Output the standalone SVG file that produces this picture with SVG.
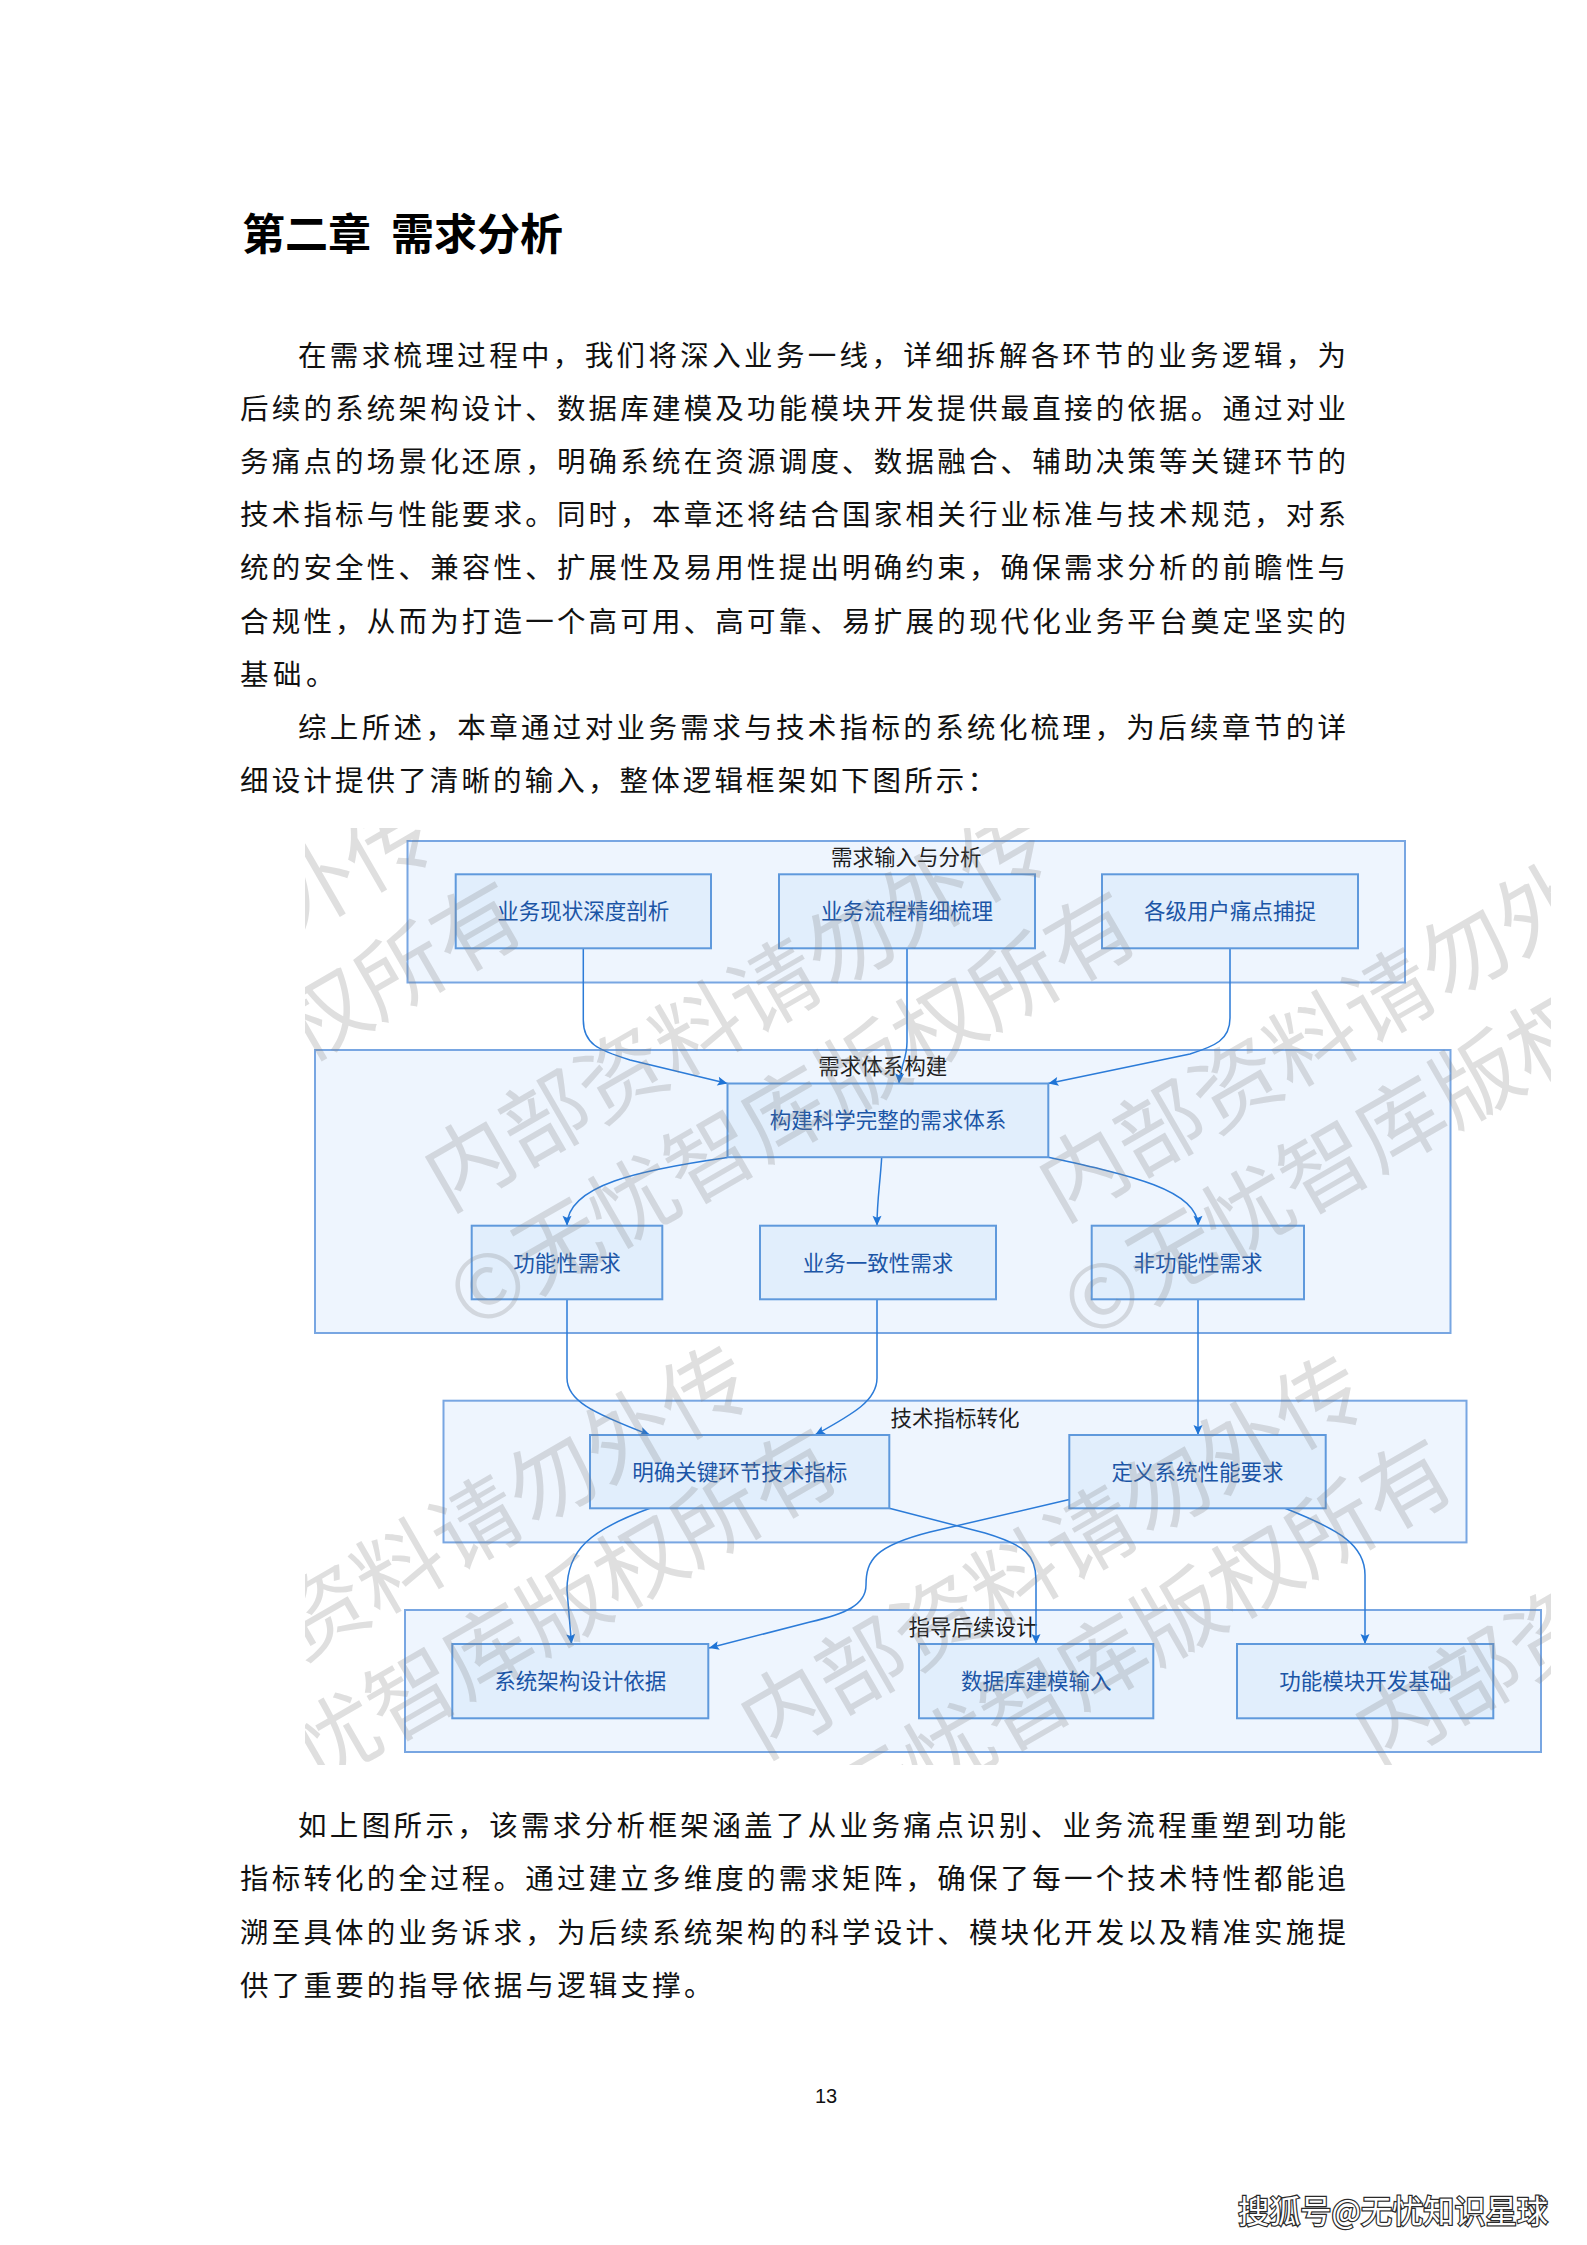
<svg xmlns="http://www.w3.org/2000/svg" width="1587" height="2245" viewBox="0 0 1587 2245">
<defs>
<style>
.body{font-family:"Noto Sans CJK SC","Noto Sans CJK JP",sans-serif;font-size:28.5px;fill:#111;}
.title{font-family:"Noto Sans CJK SC","Noto Sans CJK JP",sans-serif;font-size:43px;font-weight:700;fill:#000;}
.grp{fill:#eef5fe;stroke:#78a6e2;stroke-width:2;}
.node{fill:#e1eefc;stroke:#5f99dc;stroke-width:2;}
.nt{font-family:"Noto Sans CJK SC","Noto Sans CJK JP",sans-serif;font-size:21.5px;fill:#1b55a6;text-anchor:middle;}
.gt{font-family:"Noto Sans CJK SC","Noto Sans CJK JP",sans-serif;font-size:21.5px;fill:#1e1e1e;text-anchor:middle;}
.edge{fill:none;stroke:#2b7bd8;stroke-width:1.5;marker-end:url(#arr);}
.wm{font-family:"Noto Sans CJK SC","Noto Sans CJK JP",sans-serif;font-size:88px;fill:#808080;fill-opacity:0.25;}
</style>
<marker id="arr" viewBox="0 0 10 10" refX="10" refY="5" markerWidth="11" markerHeight="10" markerUnits="userSpaceOnUse" orient="auto"><path d="M0,0.5 L10,5 L0,9.5 L2,5 z" fill="#1f74d6"/></marker>
<clipPath id="wmclip"><rect x="305" y="828" width="1246" height="937"/></clipPath>
</defs>
<rect x="0" y="0" width="1587" height="2245" fill="#ffffff"/>

<g id="heading">
<text class="title" x="242" y="250">第二章<tspan x="391">需求分析</tspan></text>
</g>

<g id="intro">
<text class="body" x="298" y="366" textLength="1048" lengthAdjust="spacing">在需求梳理过程中，我们将深入业务一线，详细拆解各环节的业务逻辑，为</text>
<text class="body" x="240" y="419.1" textLength="1106" lengthAdjust="spacing">后续的系统架构设计、数据库建模及功能模块开发提供最直接的依据。通过对业</text>
<text class="body" x="240" y="472.2" textLength="1106" lengthAdjust="spacing">务痛点的场景化还原，明确系统在资源调度、数据融合、辅助决策等关键环节的</text>
<text class="body" x="240" y="525.3" textLength="1106" lengthAdjust="spacing">技术指标与性能要求。同时，本章还将结合国家相关行业标准与技术规范，对系</text>
<text class="body" x="240" y="578.4" textLength="1106" lengthAdjust="spacing">统的安全性、兼容性、扩展性及易用性提出明确约束，确保需求分析的前瞻性与</text>
<text class="body" x="240" y="631.5" textLength="1106" lengthAdjust="spacing">合规性，从而为打造一个高可用、高可靠、易扩展的现代化业务平台奠定坚实的</text>
<text class="body" x="240" y="684.6" textLength="94.5" lengthAdjust="spacing">基础。</text>
<text class="body" x="298" y="737.7" textLength="1048" lengthAdjust="spacing">综上所述，本章通过对业务需求与技术指标的系统化梳理，为后续章节的详</text>
<text class="body" x="240" y="790.8" textLength="756" lengthAdjust="spacing">细设计提供了清晰的输入，整体逻辑框架如下图所示：</text>
</g>

<g id="groups">
<g id="grp-input"><rect class="grp" x="407.5" y="841" width="997.5" height="141.5"/><text class="gt" x="906.2" y="865">需求输入与分析</text></g>
<g id="grp-system"><rect class="grp" x="315" y="1050" width="1135.5" height="283"/><text class="gt" x="882.8" y="1074">需求体系构建</text></g>
<g id="grp-tech"><rect class="grp" x="443.5" y="1400.7" width="1023" height="141.7"/><text class="gt" x="955" y="1425.5">技术指标转化</text></g>
<g id="grp-guide"><rect class="grp" x="405" y="1610" width="1136" height="142"/><text class="gt" x="973" y="1634.5">指导后续设计</text></g>
</g>

<g id="connectors">
<path class="edge" d="M583.3,948.3 V1020 C583.3,1044 598,1050 630,1060 L727.5,1083.5"/>
<path class="edge" d="M907,948.3 V1042 C907,1060 900,1066 899,1083.5"/>
<path class="edge" d="M1230,948.3 V1018 C1230,1040 1215,1046 1190,1054 L1048.3,1083.5"/>
<path class="edge" d="M727.5,1157.5 C640,1170 567,1185 567,1225.7"/>
<path class="edge" d="M881.7,1157.3 C880,1185 877,1200 877,1225.7"/>
<path class="edge" d="M1048.3,1157.3 C1130,1175 1198,1190 1198,1225.7"/>
<path class="edge" d="M567,1299.3 V1378 C567,1400 590,1412 650,1435"/>
<path class="edge" d="M877,1299.3 V1378 C877,1400 855,1413 815,1435"/>
<path class="edge" d="M1198,1299.3 V1435"/>
<path class="edge" d="M650,1508.3 C590,1530 567,1550 567,1590 L571.5,1644"/>
<path class="edge" d="M889.3,1508.3 L985,1533 C1025,1545 1036,1555 1036,1580 V1644"/>
<path class="edge" d="M1069.3,1499.5 L930,1532 C875,1546 866,1560 866,1585 C866,1605 845,1614 810,1622 L709,1648"/>
<path class="edge" d="M1285,1508.3 C1340,1530 1365,1545 1365,1575 V1644"/>
</g>

<g id="nodes">
<g id="n-a"><rect class="node" x="455.7" y="874.3" width="255.3" height="74"/><text class="nt" x="583.3" y="919.3">业务现状深度剖析</text></g>
<g id="n-b"><rect class="node" x="779" y="874.3" width="256" height="74"/><text class="nt" x="907" y="919.3">业务流程精细梳理</text></g>
<g id="n-c"><rect class="node" x="1102" y="874.3" width="256" height="74"/><text class="nt" x="1230" y="919.3">各级用户痛点捕捉</text></g>
<g id="n-d"><rect class="node" x="727.5" y="1083.5" width="320.8" height="73.7"/><text class="nt" x="887.9" y="1128.4">构建科学完整的需求体系</text></g>
<g id="n-e"><rect class="node" x="471.7" y="1225.7" width="190.6" height="73.6"/><text class="nt" x="567" y="1270.5">功能性需求</text></g>
<g id="n-f"><rect class="node" x="760" y="1225.7" width="236" height="73.6"/><text class="nt" x="878" y="1270.5">业务一致性需求</text></g>
<g id="n-g"><rect class="node" x="1091.7" y="1225.7" width="212.3" height="73.6"/><text class="nt" x="1197.9" y="1270.5">非功能性需求</text></g>
<g id="n-h"><rect class="node" x="590" y="1435" width="299.3" height="73.3"/><text class="nt" x="739.7" y="1479.6">明确关键环节技术指标</text></g>
<g id="n-i"><rect class="node" x="1069.3" y="1435" width="256.4" height="73.3"/><text class="nt" x="1197.5" y="1479.6">定义系统性能要求</text></g>
<g id="n-j"><rect class="node" x="452.3" y="1644" width="256" height="74.3"/><text class="nt" x="580.3" y="1689.2">系统架构设计依据</text></g>
<g id="n-k"><rect class="node" x="919" y="1644" width="234.3" height="74.3"/><text class="nt" x="1036.2" y="1689.2">数据库建模输入</text></g>
<g id="n-l"><rect class="node" x="1237" y="1644" width="256.3" height="74.3"/><text class="nt" x="1365.2" y="1689.2">功能模块开发基础</text></g>
</g>

<g id="watermark" clip-path="url(#wmclip)">
<g transform="rotate(-30)">
<text class="wm" x="-746" y="957">内部资料请勿外传</text>
<text class="wm" x="-219" y="1273">内部资料请勿外传</text>
<text class="wm" x="308" y="1589">内部资料请勿外传</text>
<text class="wm" x="-746" y="1589">内部资料请勿外传</text>
<text class="wm" x="-219" y="1905">内部资料请勿外传</text>
<text class="wm" x="308" y="2221">内部资料请勿外传</text>
<text class="wm" x="-784" y="1073">©无忧智库版权所有</text>
<text class="wm" x="-257" y="1389">©无忧智库版权所有</text>
<text class="wm" x="270" y="1705">©无忧智库版权所有</text>
<text class="wm" x="-784" y="1705">©无忧智库版权所有</text>
<text class="wm" x="-257" y="2021">©无忧智库版权所有</text>
</g>
</g>

<g id="summary">
<text class="body" x="298" y="1836" textLength="1048" lengthAdjust="spacing">如上图所示，该需求分析框架涵盖了从业务痛点识别、业务流程重塑到功能</text>
<text class="body" x="240" y="1889.3" textLength="1106" lengthAdjust="spacing">指标转化的全过程。通过建立多维度的需求矩阵，确保了每一个技术特性都能追</text>
<text class="body" x="240" y="1942.6" textLength="1106" lengthAdjust="spacing">溯至具体的业务诉求，为后续系统架构的科学设计、模块化开发以及精准实施提</text>
<text class="body" x="240" y="1996" textLength="472.5" lengthAdjust="spacing">供了重要的指导依据与逻辑支撑。</text>
</g>

<g id="footer">
<text x="826" y="2103" font-family="Liberation Sans, Arial, sans-serif" font-size="20" text-anchor="middle" fill="#111">13</text>
<text x="1238" y="2223" font-family="Noto Sans CJK SC, Noto Sans CJK JP, sans-serif" font-size="32" textLength="310" lengthAdjust="spacingAndGlyphs" fill="#ffffff" stroke="#2a2a2a" stroke-width="2.5" paint-order="stroke">搜狐号@无忧知识星球</text>
</g>
</svg>
